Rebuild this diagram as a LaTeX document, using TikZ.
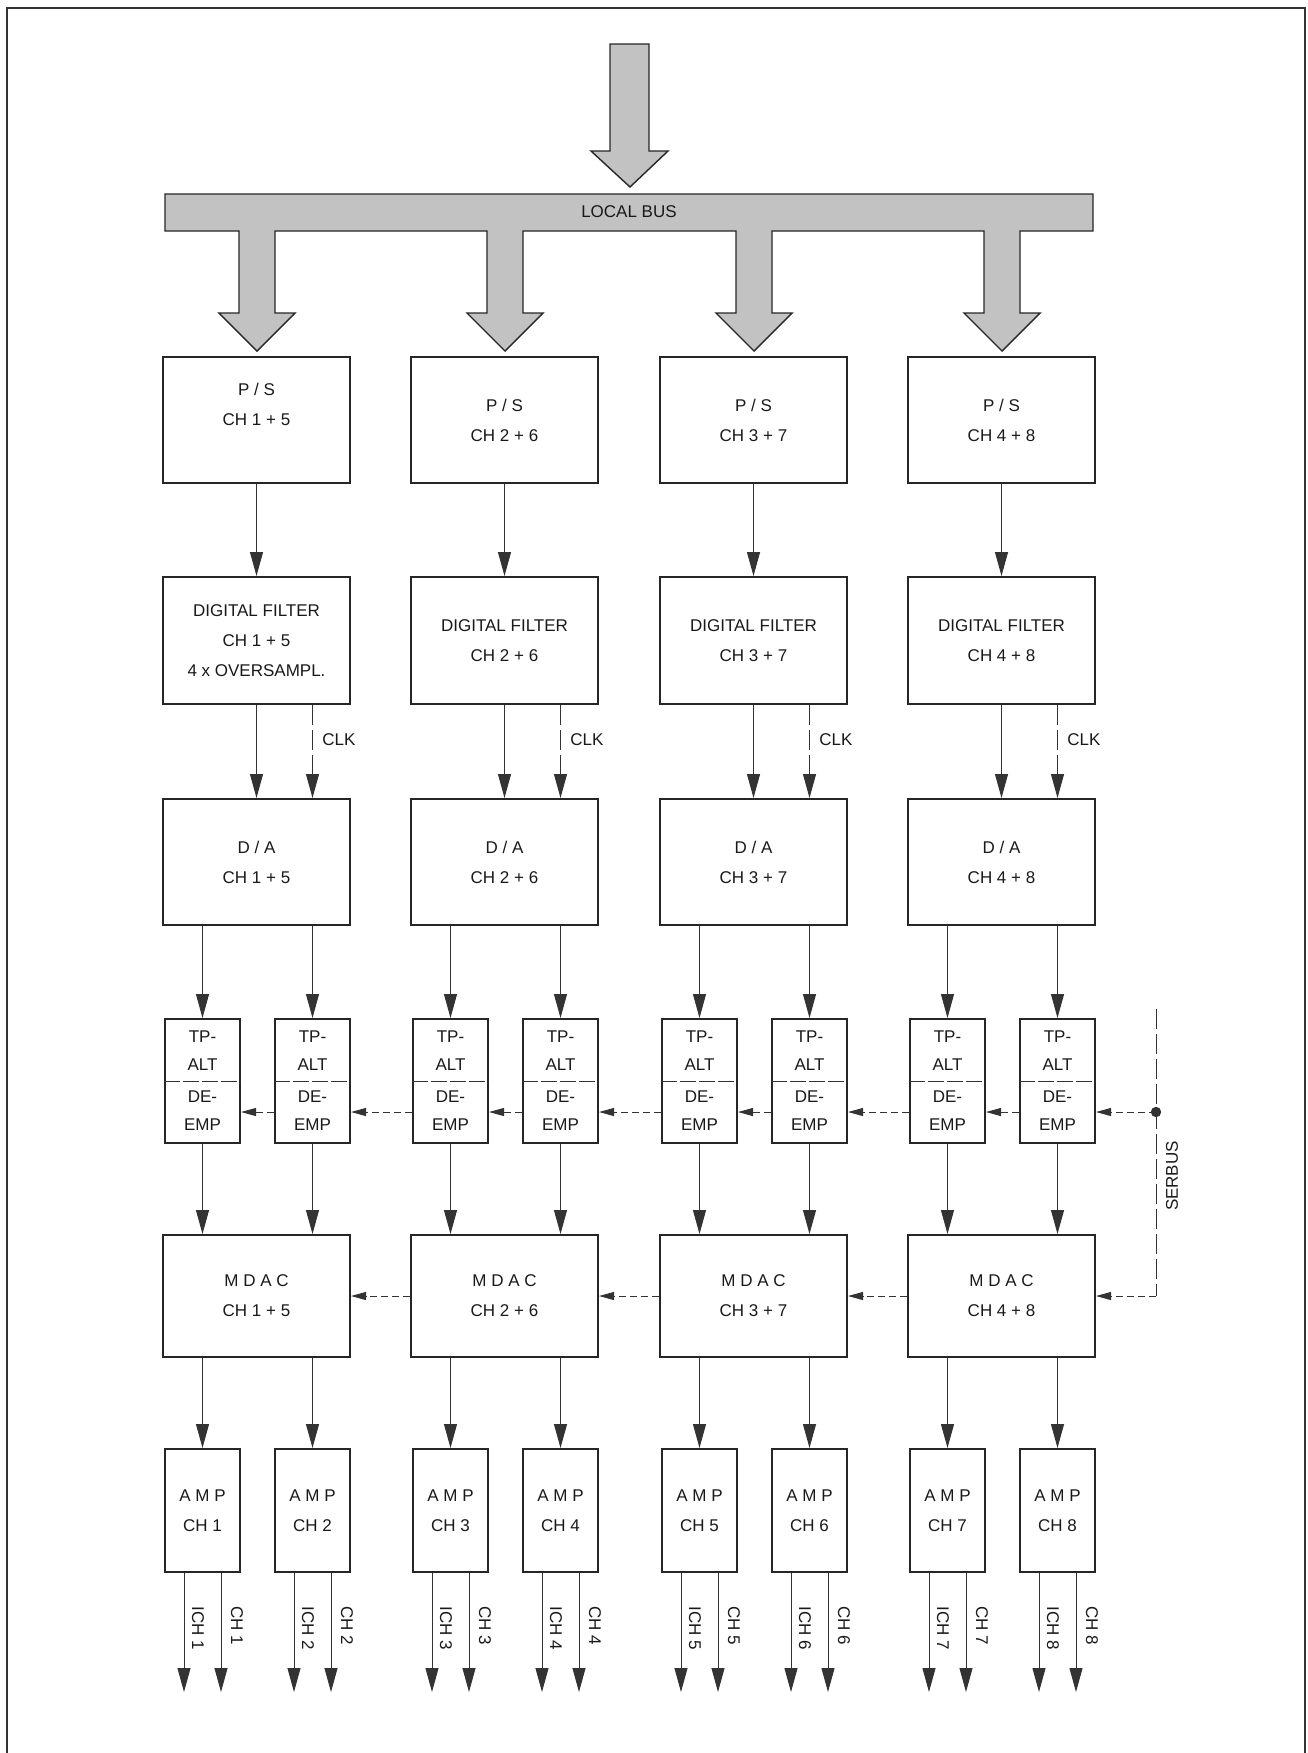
\documentclass[tikz,border=0pt]{standalone}
\usepackage{fontspec}
\setmainfont{Liberation Sans}
\usetikzlibrary{arrows.meta,calc}
\begin{document}
\begin{tikzpicture}[x=0.5pt,y=-0.5pt,
  lbl/.style={font=\fontsize{8.5}{15}\selectfont, text=black!90, inner sep=1pt},
  box/.style={lbl, draw=black!85, line width=1pt, inner sep=0pt, align=center},
  bigbox/.style={box, minimum width=93.5pt},
  smallbox/.style={box, minimum width=37.5pt, minimum height=62pt},
  conn/.style={draw=black!80, line width=0.5pt, -{Triangle[length=12pt,width=6.5pt]}},
  dconn/.style={draw=black!80, line width=0.5pt, dash pattern=on 3.5pt off 2pt, -{Triangle[length=7.5pt,width=4pt]}},
  clkline/.style={conn, dash pattern=on 10pt off 2.5pt},
  serline/.style={draw=black!80, line width=0.5pt, dash pattern=on 10pt off 2.5pt},
  divider/.style={draw=black!80, line width=0.5pt, dash pattern=on 8pt off 1.5pt},
  busfill/.style={draw=black!85, line width=0.7pt, fill=black!24},
]
\useasboundingbox (0,0) rectangle (1308,1753);
% frame
\draw[line width=1pt, black!80] (7,1753) -- (7,8) -- (1305,8) -- (1305,1753);

% top arrow
\draw[busfill] (610,44) -- (649,44) -- (649,151) -- (668,151) -- (630,187) -- (591,151) -- (610,151) -- cycle;
% local bus with branches
\draw[busfill] (165,194) -- (1093,194) -- (1093,231)
  \foreach \c in {1002,754,505,257} { -- (\c+18,231) -- (\c+18,313) -- (\c+38,313) -- (\c,351) -- (\c-38,313) -- (\c-18,313) -- (\c-18,231) }
  -- (165,231) -- cycle;
\node[lbl] (bus) at (629,212) {LOCAL BUS};

\coordinate (sb) at (1156,1112);
\coordinate (sc) at (1156,1296);
\coordinate (st) at (1156,1009);

\foreach \k/\L/\a/\b in {1/163/1/5, 2/411/2/6, 3/660/3/7, 4/908/4/8} {
  \pgfmathsetmacro\cx{\L+93.5}
  \pgfmathsetmacro\xa{\L+39.5}
  \pgfmathsetmacro\xb{\L+149.5}
  \pgfmathtruncatemacro\chA{2*\k-1}
  \pgfmathtruncatemacro\chB{2*\k}
  % P/S and digital filter
  \ifnum\k=1
    \node[bigbox, minimum height=63pt, text depth=16pt] (ps\k) at (\cx,420) {P / S\\CH \a{} + \b};
    \node[bigbox, minimum height=63.5pt] (df\k) at (\cx,640.5) {DIGITAL FILTER\\CH \a{} + \b\\4 x OVERSAMPL.};
  \else
    \node[bigbox, minimum height=63pt] (ps\k) at (\cx,420) {P / S\\CH \a{} + \b};
    \node[bigbox, minimum height=63.5pt] (df\k) at (\cx,640.5) {DIGITAL FILTER\\CH \a{} + \b};
  \fi
  \node[bigbox, minimum height=63pt] (da\k) at (\cx,862) {D / A\\CH \a{} + \b};
  \node[smallbox, font=\fontsize{8.5}{14}\selectfont] (tpa\k) at (\xa,1081) {TP-\\ALT\\[2pt]DE-\\EMP};
  \node[smallbox, font=\fontsize{8.5}{14}\selectfont] (tpb\k) at (\xb,1081) {TP-\\ALT\\[2pt]DE-\\EMP};
  \draw[divider] (tpa\k.west) -- (tpa\k.east);
  \draw[divider] (tpb\k.west) -- (tpb\k.east);
  \node[bigbox, minimum height=61pt] (mdac\k) at (\cx,1296) {M D A C\\CH \a{} + \b};
  \node[smallbox, minimum height=61.5pt] (ampa\k) at (\xa,1510.5) {A M P\\CH \chA};
  \node[smallbox, minimum height=61.5pt] (ampb\k) at (\xb,1510.5) {A M P\\CH \chB};
  % connectors
  \draw[conn] (ps\k.south) -- (df\k.north);
  \draw[conn] (df\k.south) -- (da\k.north);
  \draw[clkline] (df\k.south -| tpb\k.north) -- (da\k.north -| tpb\k.north);
  \node[lbl, anchor=west] (clk\k) at (\L+157,740) {CLK};
  \draw[conn] (da\k.south -| tpa\k.north) -- (tpa\k.north);
  \draw[conn] (da\k.south -| tpb\k.north) -- (tpb\k.north);
  \draw[conn] (tpa\k.south) -- (mdac\k.north -| tpa\k.south);
  \draw[conn] (tpb\k.south) -- (mdac\k.north -| tpb\k.south);
  \draw[conn] (mdac\k.south -| ampa\k.north) -- (ampa\k.north);
  \draw[conn] (mdac\k.south -| ampb\k.north) -- (ampb\k.north);
  % outputs
  \coordinate (oa1\k) at (\xa-18.5,1692);
  \coordinate (oa2\k) at (\xa+18.5,1692);
  \coordinate (ob1\k) at (\xb-18.5,1692);
  \coordinate (ob2\k) at (\xb+18.5,1692);
  \draw[conn] (ampa\k.south -| oa1\k) -- (oa1\k);
  \draw[conn] (ampa\k.south -| oa2\k) -- (oa2\k);
  \draw[conn] (ampb\k.south -| ob1\k) -- (ob1\k);
  \draw[conn] (ampb\k.south -| ob2\k) -- (ob2\k);
  \node[lbl, rotate=-90, anchor=west] (lia\k) at (\xa-4.5,1604) {ICH \chA};
  \node[lbl, rotate=-90, anchor=west] (lca\k) at (\xa+34.5,1604) {CH \chA};
  \node[lbl, rotate=-90, anchor=west] (lib\k) at (\xb-4.5,1604) {ICH \chB};
  \node[lbl, rotate=-90, anchor=west] (lcb\k) at (\xb+34.5,1604) {CH \chB};
  % serbus chain inside column
  \draw[dconn] (tpb\k.west |- sb) -- (tpa\k.east |- sb);
}
\foreach \k in {2,3,4} {
  \pgfmathtruncatemacro\km{\k-1}
  \draw[dconn] (tpa\k.west |- sb) -- (tpb\km.east |- sb);
  \draw[dconn] (mdac\k.west) -- (mdac\km.east);
}
% serbus
\draw[serline] (st) -- (sc);
\draw[dconn] (sb) -- (tpb4.east |- sb);
\draw[dconn] (sc) -- (mdac4.east);
\fill[black!80] (sb) circle (2.6pt);
\node[lbl, rotate=90] (serbus) at (1172,1176) {SERBUS};
\end{tikzpicture}
\end{document}
